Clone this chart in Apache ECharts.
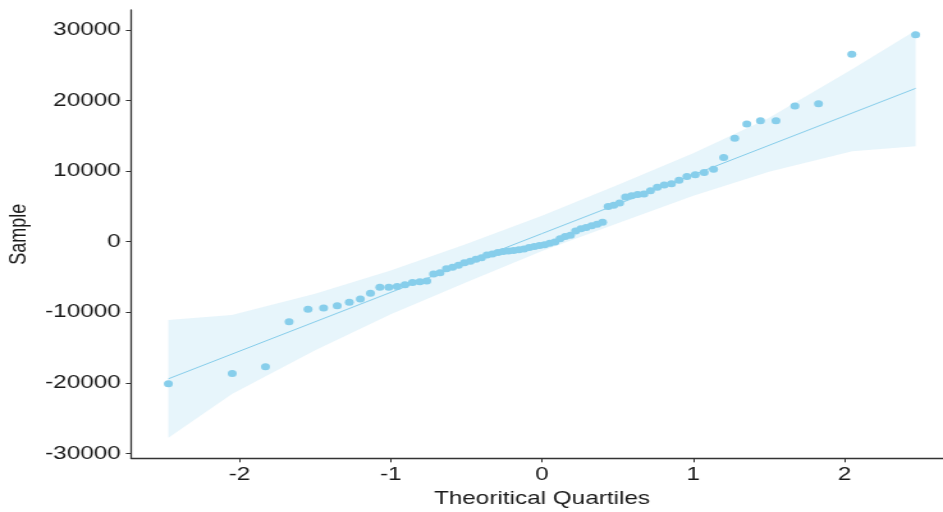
<!DOCTYPE html>
<html>
<head>
<meta charset="utf-8">
<script src="https://cdn.jsdelivr.net/npm/echarts@6/dist/echarts.min.js"></script>
<style>
  html, body { margin: 0; padding: 0; background: #fff; overflow: hidden; }
  /* the reference picture is stretched sideways, so the chart is too */
  #main { width: 737px; height: 512px; transform: scaleX(1.2795); transform-origin: 0 0; }
</style>
</head>
<body>
<div id="main"></div>
<script>
// theoretical quantiles (x) and sorted sample values (y)
var theoQ = [
  -2.470, -2.048, -1.828, -1.672, -1.547, -1.444, -1.354, -1.274, -1.201, -1.134,
  -1.072, -1.013, -0.958, -0.906, -0.856, -0.808, -0.762, -0.717, -0.674, -0.632,
  -0.592, -0.552, -0.513, -0.474, -0.437, -0.400, -0.364, -0.328, -0.292, -0.257,
  -0.222, -0.188, -0.153, -0.119, -0.085, -0.051, -0.017,
  0.017, 0.051, 0.085, 0.119, 0.153, 0.188, 0.222, 0.257, 0.292, 0.328,
  0.364, 0.400, 0.437, 0.474, 0.513, 0.552, 0.592, 0.632, 0.674, 0.717,
  0.762, 0.808, 0.856, 0.906, 0.958, 1.013, 1.072, 1.134, 1.201, 1.274,
  1.354, 1.444, 1.547, 1.672, 1.828, 2.048, 2.470
];
var sample = [
  -20140, -18680, -17730, -11350, -9600, -9420, -9080, -8610, -8140, -7330,
  -6480, -6480, -6380, -6100, -5800, -5700, -5600, -4600, -4400, -3850,
  -3650, -3350, -3000, -2800, -2500, -2300, -1900, -1750, -1550, -1400,
  -1330, -1280, -1150, -1050, -850, -700, -550,
  -450, -250, -50, 400, 700, 900, 1500, 1800, 2000, 2250,
  2450, 2750, 4960, 5150, 5450, 6300, 6500, 6650, 6750, 7180,
  7700, 8000, 8200, 8700, 9200, 9450, 9790, 10260, 11910, 14650,
  16640, 17110, 17110, 19190, 19520, 26520, 29300
];

// reference line end points
var lineX = [-2.47, 2.47];
var lineY = [-19440, 21700];

// confidence band
var bandX = [-2.47, -2.05, -1.5, -1.0, -0.5, 0, 0.5, 1.0, 1.5, 2.05, 2.47];
var bandUpper = [-11100, -10400, -7400, -4100, -350, 3650, 8000, 12500, 17500, 24400, 29900];
var bandLower = [-27800, -21600, -15400, -10300, -5750, -1350, 2600, 6500, 9900, 12800, 13500];

var xTicks = [-2, -1, 0, 1, 2];
var yTicks = [-30000, -20000, -10000, 0, 10000, 20000, 30000];

var pointColor = '#87CEEB';
var textColor = '#1a1a1a';

var myChart = echarts.init(document.getElementById('main'));

var option = {
  backgroundColor: '#fff',
  animation: false,
  grid: { left: 102.4, width: 642.4, top: 10, bottom: 53.7, outerBoundsMode: 'none', containLabel: false },
  xAxis: {
    type: 'value',
    min: -2.717,
    max: 2.717,
    name: 'Theoritical Quartiles',
    nameLocation: 'middle',
    nameGap: 30,
    nameTextStyle: { fontFamily: 'Liberation Sans', fontSize: 19, color: textColor },
    splitLine: { show: false },
    axisLine: { onZero: false, lineStyle: { color: '#333', width: 1.3 } },
    axisTick: { customValues: xTicks, length: 4, lineStyle: { color: '#333' } },
    axisLabel: {
      customValues: xTicks, margin: 7, fontFamily: 'Liberation Sans', fontSize: 19, color: textColor,
      formatter: function (v) { return String(v); }
    }
  },
  yAxis: {
    type: 'value',
    min: -30700,
    max: 32800,
    name: 'Sample',
    nameLocation: 'middle',
    nameGap: 76,
    nameRotate: 90,
    nameTextStyle: { fontFamily: 'Liberation Sans', fontSize: 18, color: textColor },
    splitLine: { show: false },
    axisLine: { onZero: false, lineStyle: { color: '#333', width: 1.3 } },
    axisTick: { customValues: yTicks, length: 4, lineStyle: { color: '#333' } },
    axisLabel: {
      customValues: yTicks, margin: 8, fontFamily: 'Liberation Sans', fontSize: 19, color: textColor,
      formatter: function (v) { return String(v); }
    }
  },
  series: [
    {
      type: 'custom',
      silent: true,
      z: 1,
      data: [0],
      renderItem: function (params, api) {
        var pts = [];
        for (var i = 0; i < bandX.length; i++) pts.push(api.coord([bandX[i], bandUpper[i]]));
        for (var j = bandX.length - 1; j >= 0; j--) pts.push(api.coord([bandX[j], bandLower[j]]));
        return {
          type: 'polygon',
          shape: { points: pts },
          style: { fill: 'rgba(135,206,235,0.2)' }
        };
      }
    },
    {
      type: 'line',
      z: 2,
      symbol: 'none',
      silent: true,
      data: lineX.map(function (x, i) { return [x, lineY[i]]; }),
      lineStyle: { color: pointColor, width: 1 }
    },
    {
      type: 'scatter',
      z: 3,
      symbolSize: 7,
      data: theoQ.map(function (x, i) { return [x, sample[i]]; }),
      itemStyle: { color: pointColor, opacity: 1 }
    }
  ]
};

myChart.setOption(option);
window.addEventListener('resize', function () {
  myChart.resize();
});
</script>
</body>
</html>
